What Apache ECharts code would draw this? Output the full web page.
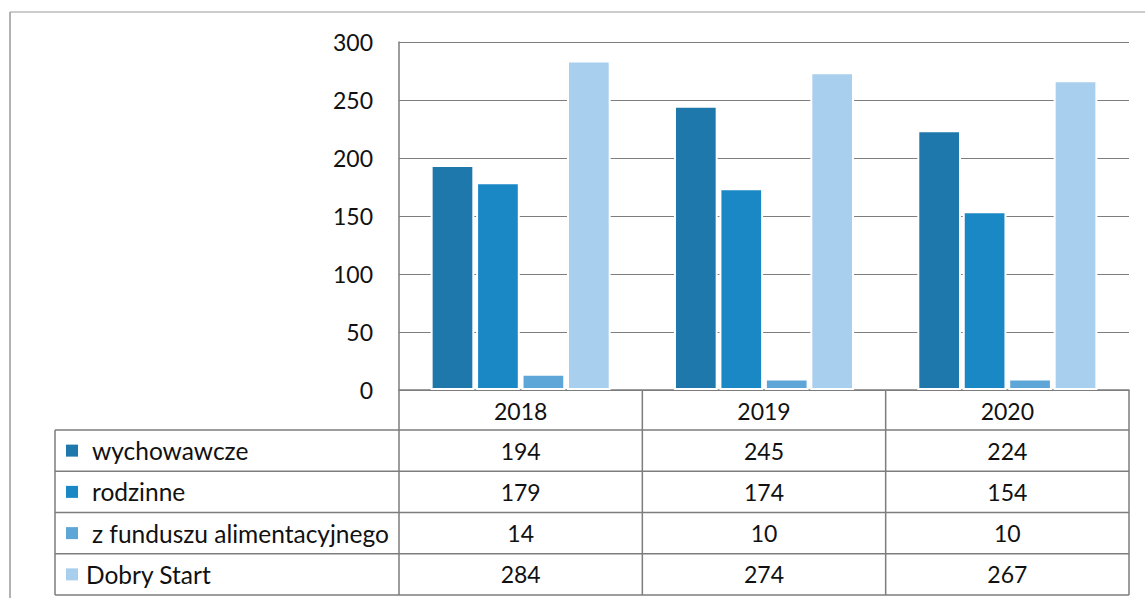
<!DOCTYPE html>
<html>
<head>
<meta charset="utf-8">
<script src="https://cdn.jsdelivr.net/npm/echarts@6/dist/echarts.min.js"></script>
<style>
  html, body { margin: 0; padding: 0; background: #fff; }
  #chart { width: 1145px; height: 598px; }
</style>
</head>
<body>
<div id="chart"></div>
<script>
// dane
const years = ["2018", "2019", "2020"];
const seriesNames = ["wychowawcze", "rodzinne", "z funduszu alimentacyjnego", "Dobry Start"];
const wychowawcze = [194, 245, 224];
const rodzinne = [179, 174, 154];
const alimentacyjny = [14, 10, 10];
const dobryStart = [284, 274, 267];
const yTicks = [0, 50, 100, 150, 200, 250, 300];

const values = [wychowawcze, rodzinne, alimentacyjny, dobryStart];
const colors = ["#1f78ab", "#1a88c5", "#5fa6d8", "#a9cfee"];
const lineColor = "#7d7d7d";
const font = "Lato, 'Open Sans', sans-serif";

const W = 1145, H = 598;
const gridL = 399, gridR = 16, gridT = 42, gridB = 208;
const tableL = 55;
const rowTop = 430, rowH = 41.25;

const chart = echarts.init(document.getElementById("chart"), null, { renderer: "svg" });

const option = {
  animation: false,
  backgroundColor: "#fff",
  textStyle: { fontFamily: font },
  grid: { left: gridL, right: gridR, top: gridT, bottom: gridB, containLabel: false },
  xAxis: {
    type: "category",
    data: years,
    axisTick: { show: false },
    axisLine: { show: true, lineStyle: { color: lineColor, width: 1.5 } },
    axisLabel: { color: "#111", fontSize: 23, margin: 9, fontFamily: font },
  },
  yAxis: {
    type: "value",
    min: yTicks[0],
    max: yTicks[yTicks.length - 1],
    interval: 50,
    axisLine: { show: true, lineStyle: { color: lineColor, width: 1.5 } },
    axisTick: { show: false },
    axisLabel: { color: "#111", fontSize: 23, margin: 26, fontFamily: font },
    splitLine: { show: true, lineStyle: { color: lineColor, width: 1.2 } },
  },
  series: seriesNames.map((name, i) => ({
    name: name,
    type: "bar",
    data: values[i],
    barGap: "4%",
    barCategoryGap: "26%",
    itemStyle: { color: colors[i], borderColor: "#fff", borderWidth: 2 },
  })),
};
chart.setOption(option);

// tabela danych pod wykresem
function buildTable() {
  const els = [];
  const colW = (W - gridL - gridR) / years.length;
  const right = W - gridR;
  const axisY = H - gridB;
  const bottom = rowTop + rowH * seriesNames.length;
  const ls = { stroke: lineColor, lineWidth: 1.5 };

  // ramka zewnętrzna
  els.push({ type: "line", shape: { x1: 10, y1: 12, x2: W, y2: 12 }, style: { stroke: "#999", lineWidth: 1.2 } });
  els.push({ type: "line", shape: { x1: 10, y1: 12, x2: 10, y2: H }, style: { stroke: "#999", lineWidth: 1.5 } });

  // linie pionowe
  for (let c = 0; c <= years.length; c++) {
    const x = gridL + c * colW;
    els.push({ type: "line", shape: { x1: x, y1: axisY, x2: x, y2: bottom }, style: ls });
  }
  els.push({ type: "line", shape: { x1: tableL, y1: rowTop, x2: tableL, y2: bottom }, style: ls });

  // linie poziome
  for (let r = 0; r <= seriesNames.length; r++) {
    const y = rowTop + r * rowH;
    els.push({ type: "line", shape: { x1: tableL, y1: y, x2: right, y2: y }, style: ls });
  }

  seriesNames.forEach((name, r) => {
    const cy = rowTop + r * rowH + rowH / 2;
    els.push({ type: "rect", shape: { x: 66, y: cy - 6, width: 12, height: 12 }, style: { fill: colors[r] } });
    els.push({
      type: "text",
      x: r === 3 ? 86 : 92, y: cy,
      style: { text: name, fontSize: 24.5, fontFamily: font, fill: "#111", verticalAlign: "middle" },
    });
    values[r].forEach((v, c) => {
      els.push({
        type: "text",
        x: gridL + c * colW + colW / 2, y: cy,
        style: { text: String(v), fontSize: 23, fontFamily: font, fill: "#111", align: "center", verticalAlign: "middle" },
      });
    });
  });

  chart.setOption({ graphic: { elements: els } });
}
buildTable();
</script>
</body>
</html>
